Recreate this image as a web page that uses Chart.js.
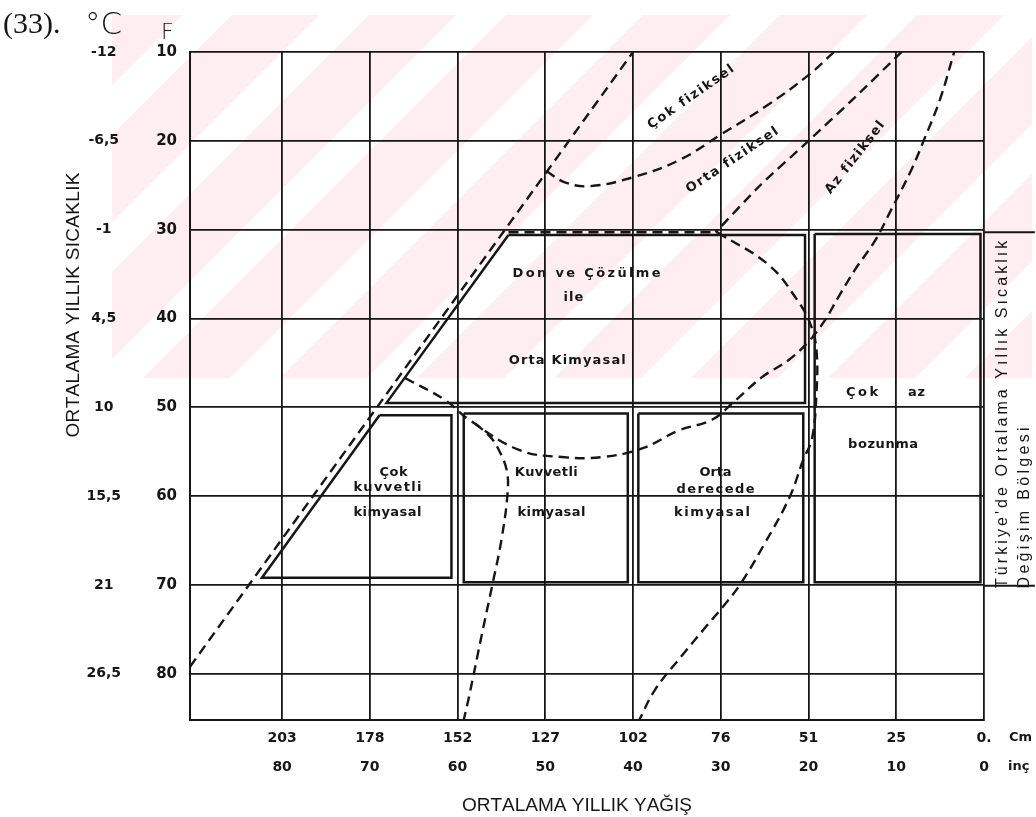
<!DOCTYPE html>
<html>
<head>
<meta charset="utf-8">
<title>Ortalama yıllık yağış ve sıcaklık</title>
<script src="https://cdn.jsdelivr.net/npm/chart.js@4.4.1/dist/chart.umd.min.js"></script>
<style>
  html, body { margin: 0; padding: 0; background: #fff; }
  canvas { display: block; }
</style>
</head>
<body>
<canvas id="chart" width="1036" height="817"></canvas>
<script>
/*
 * Ayrışma diyagramı — yağış (inç / cm) ve sıcaklık (°F / °C) eksenleri üzerinde
 * bölge sınırları ve ayrışma alanları.
 */

// ── Eksen değerleri ──
var inchTicks = [80, 70, 60, 50, 40, 30, 20, 10, 0];
var inchLabels = ["80", "70", "60", "50", "40", "30", "20", "10", "0"];
var cmLabels = ["203", "178", "152", "127", "102", "76", "51", "25", "0."];
var fTicks = [10, 20, 30, 40, 50, 60, 70, 80];
var fLabels = ["10", "20", "30", "40", "50", "60", "70", "80"];
var cLabels = ["-12", "-6,5", "-1", "4,5", "10", "15,5", "21", "26,5"];

// ── Sınır eğrileri [yağış inç, sıcaklık °F] ──
var cokFizikselSiniri = [[90.5, 79.2], [40.0, 10.0]];
var ortaFizikselSiniri = [[49.9, 23.4], [47.7, 24.7], [44.9, 25.1], [40.0, 24.1], [34.8, 22.2],
    [30.0, 19.3], [24.7, 16.0], [20.0, 12.6], [17.1, 10.0]];
var azFizikselSiniri = [[9.4, 10.0], [14.6, 15.0], [20.0, 20.0], [25.5, 25.0], [30.6, 30.3]];
var donCizgisi = [[54.2, 30.3], [30.4, 30.3]];
var donEgrisi = [[30.4, 30.3], [24.5, 34.0], [21.3, 37.9], [19.8, 40.6], [19.1, 43.5], [19.1, 48.5],
    [19.6, 53.5], [20.6, 55.9], [22.2, 60.2], [25.1, 65.5], [27.7, 69.8], [29.8, 72.5],
    [31.7, 74.7], [34.3, 77.8], [37.5, 81.8], [39.3, 85.2]];
var kimyasalEgrisi = [[66.0, 46.7], [61.4, 49.2], [58.7, 51.4], [53.0, 54.8], [48.1, 55.6],
    [43.5, 55.6], [38.9, 54.6], [34.8, 52.6], [31.0, 51.4], [28.3, 49.2], [25.3, 46.6],
    [22.3, 44.7], [20.0, 42.6], [18.2, 40.3], [16.6, 37.6], [14.7, 34.5], [12.4, 31.2],
    [10.6, 27.8], [8.3, 23.3], [6.8, 19.8], [5.0, 15.3], [3.4, 10.0]];
var kuvvetliEgrisi = [[58.0, 51.8], [56.3, 53.3], [55.3, 54.8], [54.4, 57.1], [54.3, 59.6],
    [55.0, 64.9], [56.0, 69.8], [57.2, 75.4], [58.7, 82.6], [59.3, 85.2]];

// ── Alanlar (kapalı çokgenler) ──
var ortaKimyasalAlani = [[54.2, 30.6], [20.4, 30.6], [20.4, 49.5], [68.1, 49.5], [54.2, 30.6]];
var cokKuvvetliAlani = [[68.9, 50.9], [60.7, 50.9], [60.7, 69.2], [82.3, 69.2], [68.9, 50.9]];
var kuvvetliAlani = [[59.3, 50.7], [40.6, 50.7], [40.6, 69.7], [59.3, 69.7], [59.3, 50.7]];
var ortaDereceAlani = [[39.4, 50.7], [20.6, 50.7], [20.6, 69.7], [39.4, 69.7], [39.4, 50.7]];
var cokAzAlani = [[19.3, 30.5], [0.4, 30.5], [0.4, 69.7], [19.3, 69.7], [19.3, 30.5]];
// Türkiye sıcaklık bandının sağa uzanan çizgileri
var turkiyeUst = [[0, 30.3], [-5.8, 30.3]];
var turkiyeAlt = [[0, 70.1], [-5.8, 70.1]];

var INK = "#161616";
var FONT = "'DejaVu Sans', sans-serif";
var NARROW = "'Liberation Sans Narrow', 'Liberation Sans', sans-serif";

function pts(list) {
    return list.map(function (p) { return { x: p[0], y: p[1] }; });
}

function dashed(list, tension) {
    return {
        data: pts(list), showLine: true, borderColor: INK, borderWidth: 2.4,
        borderDash: [10, 6], pointRadius: 0, tension: tension, clip: false
    };
}

function solid(list, width) {
    return {
        data: pts(list), showLine: true, borderColor: INK, borderWidth: width,
        pointRadius: 0, tension: 0, clip: false
    };
}

// ── Yazılar: bölge adları (veri koordinatlarında) ──
var labelPlacement = [
    { text: "Çok fiziksel", x: 33.4, y: 15.1, angle: -35, width: 102 },
    { text: "Orta fiziksel", x: 28.7, y: 22.2, angle: -34, width: 108 },
    { text: "Az fiziksel", x: 14.7, y: 21.9, angle: -52, width: 88 },
    { text: "Don ve Çözülme", x: 45.3, y: 34.9, angle: 0, width: 148 },
    { text: "ile", x: 46.8, y: 37.7, angle: 0, width: 20 },
    { text: "Orta Kimyasal", x: 47.5, y: 44.7, angle: 0, width: 117 },
    { text: "Çok", x: 67.3, y: 57.3, angle: 0, width: 28 },
    { text: "kuvvetli", x: 68.0, y: 59.0, angle: 0, width: 68 },
    { text: "kimyasal", x: 68.0, y: 61.8, angle: 0, width: 68 },
    { text: "Kuvvetli", x: 49.9, y: 57.3, angle: 0, width: 63 },
    { text: "kimyasal", x: 49.3, y: 61.8, angle: 0, width: 68 },
    { text: "Orta", x: 30.6, y: 57.4, angle: 0, width: 32 },
    { text: "derecede", x: 30.6, y: 59.3, angle: 0, width: 78 },
    { text: "kimyasal", x: 31.0, y: 61.8, angle: 0, width: 76 },
    { text: "Çok", x: 13.9, y: 48.3, angle: 0, width: 32 },
    { text: "az", x: 7.7, y: 48.3, angle: 0, width: 17 },
    { text: "bozunma", x: 11.5, y: 54.2, angle: 0, width: 70 }
];

// draw text char by char so it fills a given width (the original is hand lettered, wide spaced)
function spacedText(ctx, text, cx, cy, width, angle) {
    var chars = Array.from(text);
    var widths = chars.map(function (c) { return ctx.measureText(c).width; });
    var natural = widths.reduce(function (a, b) { return a + b; }, 0);
    var gap = chars.length > 1 ? (width - natural) / (chars.length - 1) : 0;
    ctx.save();
    ctx.translate(cx, cy);
    ctx.rotate(angle * Math.PI / 180);
    ctx.textAlign = "left";
    ctx.textBaseline = "middle";
    var x = -(natural + gap * (chars.length - 1)) / 2;
    chars.forEach(function (c, i) {
        ctx.fillText(c, x, 0);
        x += widths[i] + gap;
    });
    ctx.restore();
}

// light pink diagonal watermark of the scanned page
function drawWatermark(ctx) {
    ctx.save();
    ctx.beginPath();
    ctx.rect(112, 15, 920, 363);
    ctx.clip();
    ctx.fillStyle = "#feeef1";
    for (var s = 795 - 137 * 9; s < 1500; s += 137) {
        ctx.beginPath();
        ctx.moveTo(s, 0);
        ctx.lineTo(s + 87, 0);
        ctx.lineTo(s + 87 - 400, 400);
        ctx.lineTo(s - 400, 400);
        ctx.closePath();
        ctx.fill();
    }
    ctx.restore();
}

var notesPlugin = {
    id: "notes",
    beforeDraw: function (chart) {
        var ctx = chart.ctx;
        ctx.save();
        ctx.fillStyle = "#fff";
        ctx.fillRect(0, 0, chart.width, chart.height);
        ctx.restore();
        drawWatermark(ctx);
    },
    afterDatasetsDraw: function (chart) {
        var ctx = chart.ctx;
        var xs = chart.scales.x, ys = chart.scales.y;
        ctx.save();
        ctx.fillStyle = INK;
        ctx.font = "bold 13px " + FONT;
        labelPlacement.forEach(function (l) {
            spacedText(ctx, l.text, xs.getPixelForValue(l.x), ys.getPixelForValue(l.y), l.width, l.angle);
        });
        ctx.restore();
    },
    afterDraw: function (chart) {
        var ctx = chart.ctx;
        var area = chart.chartArea;
        var ys = chart.scales.y;
        ctx.save();
        ctx.fillStyle = INK;

        // başlık satırı
        ctx.textBaseline = "middle";
        ctx.textAlign = "left";
        ctx.font = "30px 'Liberation Serif', serif";
        ctx.fillText("(33).", 3, 25);
        ctx.font = "200 31px " + FONT;
        ctx.fillText("°C", 85, 26);
        ctx.font = "200 22px " + FONT;
        ctx.fillText("F", 161, 33);

        // eksen başlıkları
        ctx.font = "19px " + NARROW;
        spacedText(ctx, "ORTALAMA YILLIK SICAKLIK", 74, 305, 265, -90);
        spacedText(ctx, "ORTALAMA YILLIK YAĞIŞ", 577, 806, 230, 0);

        // birimler
        ctx.font = "bold 13px " + FONT;
        ctx.textAlign = "left";
        ctx.fillText("Cm", 1009, chart.scales.x.top + 18);
        ctx.fillText("inç", 1008, chart.scales.xIn.top + 15);

        // Türkiye bandı etiketi
        var p30 = ys.getPixelForValue(30), p70 = ys.getPixelForValue(70);
        ctx.font = "16px 'Liberation Sans', sans-serif";
        spacedText(ctx, "Türkiye'de Ortalama Yıllık Sıcaklık", area.right + 19, (p30 + p70) / 2 + 7, p70 - p30 - 8, -90);
        spacedText(ctx, "Değişim Bölgesi", area.right + 41, p70 + 3 - 80, 161, -90);
        ctx.restore();
    }
};

function fixedTicks(values) {
    return function (scale) {
        scale.ticks = values.map(function (v) { return { value: v }; });
    };
}

function labelFrom(values, labels) {
    return function (value) {
        var i = values.indexOf(value);
        return i < 0 ? "" : labels[i];
    };
}

var ctx = document.getElementById("chart");

new Chart(ctx, {
    type: "scatter",
    data: {
        datasets: [
            solid(ortaKimyasalAlani, 2.5),
            solid(cokKuvvetliAlani, 2.5),
            solid(kuvvetliAlani, 2.5),
            solid(ortaDereceAlani, 2.5),
            solid(cokAzAlani, 2.5),
            solid(turkiyeUst, 2),
            solid(turkiyeAlt, 2),
            dashed(cokFizikselSiniri, 0),
            dashed(ortaFizikselSiniri, 0.4),
            dashed(azFizikselSiniri, 0.2),
            dashed(donCizgisi, 0),
            dashed(donEgrisi, 0.4),
            dashed(kimyasalEgrisi, 0.4),
            dashed(kuvvetliEgrisi, 0.4)
        ]
    },
    options: {
        responsive: false,
        animation: false,
        events: [],
        layout: { padding: { left: 0, right: 52, top: 52, bottom: 35 } },
        plugins: {
            legend: { display: false },
            tooltip: { enabled: false }
        },
        scales: {
            x: {
                type: "linear", position: "bottom", weight: 0,
                min: 0, max: 90.5, reverse: true,
                afterBuildTicks: fixedTicks(inchTicks),
                afterFit: function (scale) { scale.height = 32; },
                grid: { color: INK, lineWidth: 1.8, drawTicks: false },
                border: { color: INK, width: 2 },
                ticks: {
                    autoSkip: false, maxRotation: 0, padding: 10, color: INK,
                    font: { family: FONT, weight: "bold", size: 14 },
                    callback: labelFrom(inchTicks, cmLabels)
                }
            },
            xIn: {
                type: "linear", axis: "x", position: "bottom", weight: 1,
                min: 0, max: 90.5, reverse: true,
                afterBuildTicks: fixedTicks(inchTicks),
                afterFit: function (scale) { scale.height = 30; },
                grid: { display: false, drawTicks: false },
                border: { display: false },
                ticks: {
                    autoSkip: false, maxRotation: 0, padding: 7, color: INK,
                    font: { family: FONT, weight: "bold", size: 14 },
                    callback: labelFrom(inchTicks, inchLabels)
                }
            },
            y: {
                type: "linear", position: "left", weight: 0,
                min: 10, max: 85.2, reverse: true,
                afterBuildTicks: fixedTicks(fTicks),
                afterFit: function (scale) { scale.width = 50; },
                grid: { color: INK, lineWidth: 1.8, drawTicks: false },
                border: { color: INK, width: 2 },
                ticks: {
                    autoSkip: false, padding: 13, color: INK,
                    font: { family: FONT, weight: "bold", size: 15 },
                    callback: labelFrom(fTicks, fLabels)
                }
            },
            yC: {
                type: "linear", axis: "y", position: "left", weight: 1,
                min: 10, max: 85.2, reverse: true,
                afterBuildTicks: fixedTicks(fTicks),
                afterFit: function (scale) { scale.width = 140; },
                grid: { display: false, drawTicks: false },
                border: { display: false },
                ticks: {
                    autoSkip: false, padding: 19, crossAlign: "center", color: INK,
                    font: { family: FONT, weight: "bold", size: 14 },
                    callback: labelFrom(fTicks, cLabels)
                }
            }
        }
    },
    plugins: [notesPlugin]
});
</script>
</body>
</html>
